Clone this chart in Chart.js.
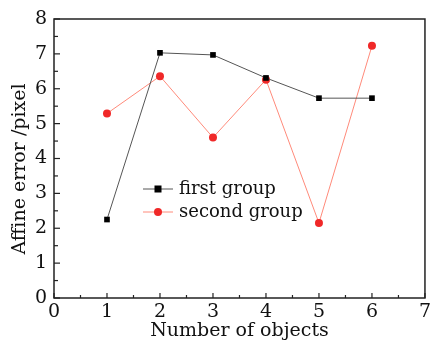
<!DOCTYPE html>
<html><head><meta charset="utf-8">
<script src="https://cdn.jsdelivr.net/npm/chart.js@4/dist/chart.umd.min.js"></script>
<style>html,body{margin:0;padding:0;background:#fff}#wrap{width:434px;height:342px}</style>
</head><body><div id="wrap"><canvas id="c" width="434" height="342"></canvas></div>
<script>
const categories = [1, 2, 3, 4, 5, 6];
const firstGroup = [2.25, 7.03, 6.97, 6.31, 5.73, 5.73];
const secondGroup = [5.29, 6.36, 4.60, 6.26, 2.15, 7.23];
const xTicks = [0, 1, 2, 3, 4, 5, 6, 7];
const yTicks = [0, 1, 2, 3, 4, 5, 6, 7, 8];
const seriesNames = ['first group', 'second group'];
const xTitle = 'Number of objects';
const yTitle = 'Affine error /pixel';

const FONT = '"DejaVu Serif", serif';

const framePlugin = {
  id: 'frame',
  afterDraw(chart) {
    const ctx = chart.ctx, a = chart.chartArea;
    const xs = chart.scales.x, ys = chart.scales.y;
    ctx.save();
    ctx.strokeStyle = '#222';
    ctx.lineWidth = 1.5;
    ctx.strokeRect(a.left, a.top, a.right - a.left, a.bottom - a.top);
    ctx.lineWidth = 1.2;
    // inward ticks
    for (let v = xs.min; v <= xs.max + 1e-9; v += 0.5) {
      const p = xs.getPixelForValue(v);
      const len = Math.abs(v - Math.round(v)) < 1e-9 ? 5 : 3;
      ctx.beginPath(); ctx.moveTo(p, a.bottom); ctx.lineTo(p, a.bottom - len); ctx.stroke();
    }
    for (let v = ys.min; v <= ys.max + 1e-9; v += 0.5) {
      const p = ys.getPixelForValue(v);
      const len = Math.abs(v - Math.round(v)) < 1e-9 ? 6 : 4;
      ctx.beginPath(); ctx.moveTo(a.left, p); ctx.lineTo(a.left + len, p); ctx.stroke();
    }
    // y title
    ctx.fillStyle = '#111';
    ctx.font = '19px ' + FONT;
    ctx.textAlign = 'center'; ctx.textBaseline = 'middle';
    ctx.save();
    ctx.translate(20, 169);
    ctx.rotate(-Math.PI / 2);
    ctx.fillText(yTitle, 0, 0);
    ctx.restore();
    // legend
    const lx = 143, ly0 = 189, dy = 23;
    chart.data.datasets.forEach((ds, i) => {
      const y = ly0 + i * dy;
      ctx.strokeStyle = ds.borderColor; ctx.lineWidth = 1;
      ctx.beginPath(); ctx.moveTo(lx, y); ctx.lineTo(lx + 30, y); ctx.stroke();
      ctx.fillStyle = ds.pointBackgroundColor;
      if (ds.pointStyle === 'rect') { ctx.fillRect(lx + 15 - 3.5, y - 3.5, 7, 7); }
      else { ctx.beginPath(); ctx.arc(lx + 15, y, 4, 0, Math.PI * 2); ctx.fill(); }
      ctx.fillStyle = '#111';
      ctx.font = '18px ' + FONT;
      ctx.textAlign = 'left'; ctx.textBaseline = 'middle';
      ctx.fillText(ds.label, lx + 36, y);
    });
    ctx.restore();
  }
};

new Chart(document.getElementById('c'), {
  type: 'line',
  data: {
    datasets: [
      { label: seriesNames[0], data: categories.map((c, i) => ({ x: c, y: firstGroup[i] })),
        borderColor: '#555', borderWidth: 1, pointStyle: 'rect', pointRadius: 4,
        pointBackgroundColor: '#000', pointBorderColor: '#000', pointBorderWidth: 0 },
      { label: seriesNames[1], data: categories.map((c, i) => ({ x: c, y: secondGroup[i] })),
        borderColor: '#ff8a7a', borderWidth: 1, pointStyle: 'circle', pointRadius: 4,
        pointBackgroundColor: '#f02828', pointBorderColor: '#f02828', pointBorderWidth: 0 }
    ]
  },
  options: {
    responsive: false, animation: false, devicePixelRatio: 1,
    layout: { padding: { top: 19, right: 2, left: 0, bottom: 0 } },
    plugins: { legend: { display: false }, tooltip: { enabled: false } },
    scales: {
      x: {
        type: 'linear', min: 0, max: 7,
        afterBuildTicks(s) { s.ticks = xTicks.map(v => ({ value: v })); },
        afterFit(s) { s.height = 44; },
        grid: { display: false, drawTicks: false },
        border: { display: false },
        ticks: { color: '#111', font: { family: FONT, size: 19 }, padding: 3, maxRotation: 0 },
        title: { display: true, text: xTitle, color: '#111', font: { family: FONT, size: 19 }, padding: { top: 0, bottom: 0 } }
      },
      y: {
        min: 0, max: 8,
        afterBuildTicks(s) { s.ticks = yTicks.map(v => ({ value: v })); },
        afterFit(s) { s.width = 54; },
        grid: { display: false, drawTicks: false },
        border: { display: false },
        ticks: { color: '#111', font: { family: FONT, size: 19 }, padding: 7 },
        title: { display: false }
      }
    }
  },
  plugins: [framePlugin]
});
</script></body></html>
